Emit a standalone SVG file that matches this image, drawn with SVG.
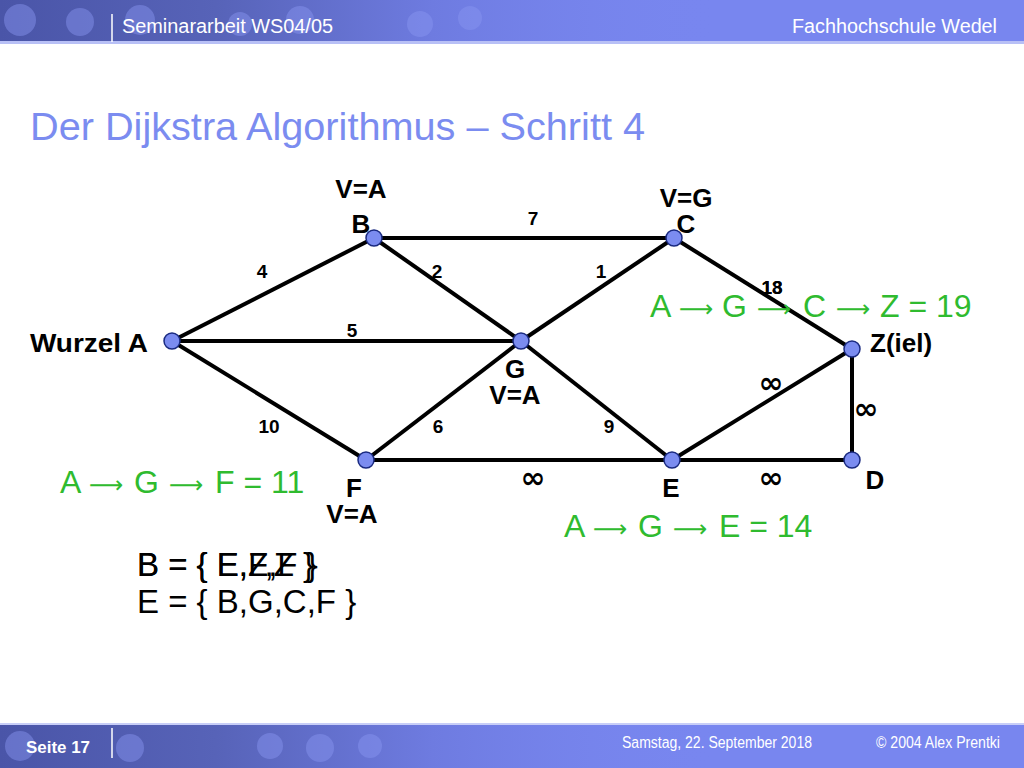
<svg xmlns="http://www.w3.org/2000/svg" width="1024" height="768" viewBox="0 0 1024 768">
<defs>
<linearGradient id="hdr" x1="0" y1="0" x2="1" y2="0">
<stop offset="0" stop-color="#4a55a8"/>
<stop offset="0.3" stop-color="#5763b8"/>
<stop offset="0.6" stop-color="#6e7be0"/>
<stop offset="1" stop-color="#7886ef" stop-opacity="0"/>
</linearGradient>
<style>
.band{fill:#7886ef}
.hd{font-family:"Liberation Sans",Arial,sans-serif;fill:#ffffff}
.edge{stroke:#000;stroke-width:4;fill:none}
.node{fill:#7b8cf0;stroke:#1a2a80;stroke-width:1.5}
.lbl{font-family:"Liberation Sans",Arial,sans-serif;font-weight:bold;font-size:26px;fill:#000}
.w{font-family:"Liberation Sans",Arial,sans-serif;font-weight:bold;font-size:19px;fill:#000}
.inf{font-family:"DejaVu Sans",sans-serif;font-size:30px;font-weight:bold;fill:#000}
.grn{font-family:"Liberation Sans",Arial,sans-serif;font-size:32px;fill:#2fbb2f}
.ar{font-family:"DejaVu Sans",sans-serif;font-size:24px}
.set{font-family:"Liberation Sans",Arial,sans-serif;font-size:33px;fill:#000}
</style>
</defs>
<rect width="1024" height="768" fill="#ffffff"/>
<!-- header -->
<g id="header">
<rect class="band" x="0" y="0" width="1024" height="41"/>
<rect x="0" y="0" width="720" height="41" fill="url(#hdr)"/>
<g fill="#8a97f2" opacity="0.45">
<circle cx="20" cy="20" r="16"/><circle cx="80" cy="22" r="14"/><circle cx="140" cy="20" r="15"/><circle cx="240" cy="24" r="12"/><circle cx="300" cy="20" r="14"/><circle cx="420" cy="24" r="13"/><circle cx="470" cy="18" r="12"/>
</g>
<rect x="0" y="41" width="1024" height="3" fill="#b8c0f6"/>
<line x1="112" y1="14" x2="112" y2="42" stroke="#ffffff" stroke-width="1.5"/>
<text class="hd" x="122" y="33" font-size="20" textLength="211" lengthAdjust="spacingAndGlyphs">Seminararbeit WS04/05</text>
<text class="hd" x="792" y="33" font-size="20" textLength="205" lengthAdjust="spacingAndGlyphs">Fachhochschule Wedel</text>
</g>
<!-- footer -->
<g id="footer">
<rect x="0" y="723" width="1024" height="2" fill="#c8cef8"/>
<rect class="band" x="0" y="725" width="1024" height="43"/>
<rect x="0" y="725" width="720" height="43" fill="url(#hdr)"/>
<g fill="#8a97f2" opacity="0.45">
<circle cx="20" cy="746" r="15"/><circle cx="130" cy="748" r="14"/><circle cx="270" cy="746" r="13"/><circle cx="320" cy="748" r="14"/><circle cx="370" cy="746" r="12"/>
</g>
<line x1="112" y1="728" x2="112" y2="758" stroke="#ffffff" stroke-width="1.5"/>
<text class="hd" x="26" y="753" font-size="17" font-weight="bold" textLength="64" lengthAdjust="spacingAndGlyphs">Seite 17</text>
<text class="hd" x="622" y="748" font-size="16" textLength="190" lengthAdjust="spacingAndGlyphs">Samstag, 22. September 2018</text>
<text class="hd" x="876" y="748" font-size="16" textLength="124" lengthAdjust="spacingAndGlyphs">© 2004 Alex Prentki</text>
</g>
<text x="30" y="140" font-family="Liberation Sans,Arial,sans-serif" font-size="38" fill="#7b8cf0" textLength="615" lengthAdjust="spacingAndGlyphs">Der Dijkstra Algorithmus – Schritt 4</text>
<!-- connectors -->
<g id="connectors">
<line class="edge" x1="172" y1="341" x2="374" y2="238"/>
<line class="edge" x1="172" y1="341" x2="521" y2="341"/>
<line class="edge" x1="172" y1="341" x2="366" y2="460"/>
<line class="edge" x1="374" y1="238" x2="674" y2="238"/>
<line class="edge" x1="374" y1="238" x2="521" y2="341"/>
<line class="edge" x1="674" y1="238" x2="521" y2="341"/>
<line class="edge" x1="674" y1="238" x2="852" y2="349"/>
<line class="edge" x1="521" y1="341" x2="366" y2="460"/>
<line class="edge" x1="521" y1="341" x2="672" y2="460"/>
<line class="edge" x1="366" y1="460" x2="672" y2="460"/>
<line class="edge" x1="672" y1="460" x2="852" y2="349"/>
<line class="edge" x1="672" y1="460" x2="852" y2="460"/>
<line class="edge" x1="852" y1="349" x2="852" y2="460"/>
</g>
<!-- edge weights -->
<g id="weights">
<text class="w" x="262" y="278" text-anchor="middle">4</text>
<text class="w" x="437" y="278" text-anchor="middle">2</text>
<text class="w" x="601" y="278" text-anchor="middle">1</text>
<text class="w" x="533" y="225" text-anchor="middle" font-size="17">7</text>
<text class="w" x="352" y="337" text-anchor="middle">5</text>
<text class="w" x="269" y="433" text-anchor="middle">10</text>
<text class="w" x="438" y="433" text-anchor="middle">6</text>
<text class="w" x="609" y="433" text-anchor="middle">9</text>
<text class="w" x="772" y="294" text-anchor="middle">13</text>
<text class="w" x="772" y="294" text-anchor="middle">18</text>
<text class="inf" x="533" y="488" text-anchor="middle">∞</text>
<text class="inf" x="771" y="393" text-anchor="middle">∞</text>
<text class="inf" x="866" y="419" text-anchor="middle">∞</text>
<text class="inf" x="771" y="488" text-anchor="middle">∞</text>
</g>
<!-- nodes -->
<g id="node-A"><circle class="node" cx="172" cy="341" r="8"/><text class="lbl" x="30" y="352" textLength="118" lengthAdjust="spacingAndGlyphs">Wurzel A</text></g>
<g id="node-B"><circle class="node" cx="374" cy="238" r="8"/><text class="lbl" x="361" y="198" text-anchor="middle">V=A</text><text class="lbl" x="361" y="233" text-anchor="middle">B</text></g>
<g id="node-C"><circle class="node" cx="674" cy="238" r="8"/><text class="lbl" x="686" y="207" text-anchor="middle">V=G</text><text class="lbl" x="686" y="233" text-anchor="middle">C</text></g>
<g id="node-G"><circle class="node" cx="521" cy="341" r="8"/><text class="lbl" x="515" y="378" text-anchor="middle">G</text><text class="lbl" x="515" y="404" text-anchor="middle">V=A</text></g>
<g id="node-Z"><circle class="node" cx="852" cy="349" r="8"/><text class="lbl" x="870" y="352">Z(iel)</text></g>
<g id="node-F"><circle class="node" cx="366" cy="460" r="8"/><text class="lbl" x="354" y="497" text-anchor="middle">F</text><text class="lbl" x="352" y="523" text-anchor="middle">V=A</text></g>
<g id="node-E"><circle class="node" cx="672" cy="460" r="8"/><text class="lbl" x="671" y="497" text-anchor="middle">E</text></g>
<g id="node-D"><circle class="node" cx="852" cy="460" r="8"/><text class="lbl" x="875" y="489" text-anchor="middle">D</text></g>
<!-- green paths -->
<g id="paths">
<text class="grn" y="317"><tspan x="650">A</tspan><tspan class="ar" x="679">⟶</tspan><tspan x="722">G</tspan><tspan class="ar" x="757">⟶</tspan><tspan x="803">C</tspan><tspan class="ar" x="836">⟶</tspan><tspan x="880">Z = 19</tspan></text>
<text class="grn" y="493"><tspan x="60">A</tspan><tspan class="ar" x="89">⟶</tspan><tspan x="134">G</tspan><tspan class="ar" x="169">⟶</tspan><tspan x="215">F = 11</tspan></text>
<text class="grn" y="537"><tspan x="564">A</tspan><tspan class="ar" x="593">⟶</tspan><tspan x="638">G</tspan><tspan class="ar" x="673">⟶</tspan><tspan x="719">E = 14</tspan></text>
</g>
<!-- sets -->
<g id="sets">
<text class="set" x="137" y="576">B = { E,F,Z }</text>
<text class="set" x="137" y="576">B = { E,Z,F }</text>
<text class="set" x="137" y="613">E = { B,G,C,F }</text>
</g>
</svg>
